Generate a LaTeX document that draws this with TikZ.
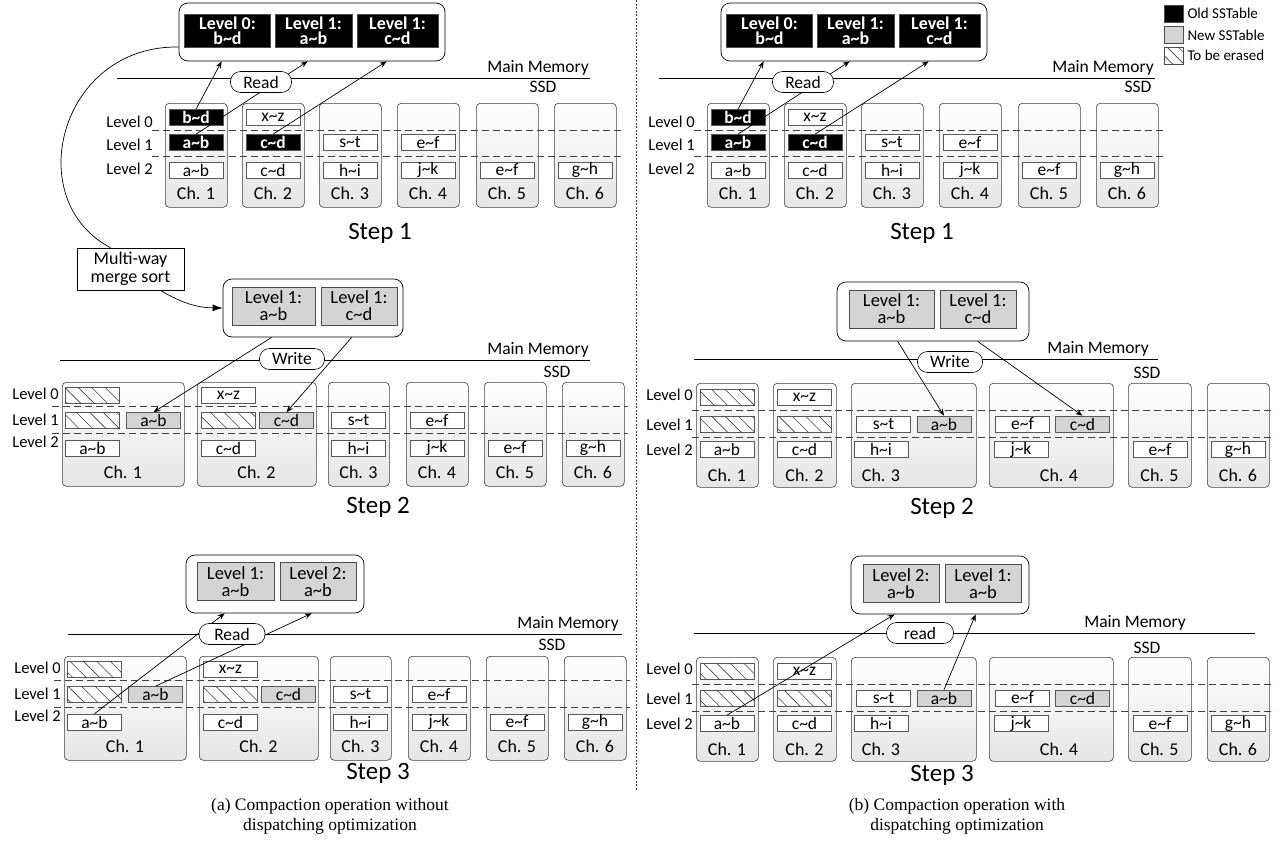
\documentclass[tikz,border=0pt]{standalone}
\usepackage{fontspec}
\setmainfont{Carlito}
\newfontfamily\capfont{Liberation Serif}
\usetikzlibrary{arrows.meta,calc,positioning,patterns.meta}
\newcommand{\tild}{\textasciitilde}

\tikzset{
  chbox/.style={draw=black!75, line width=.6pt, rounded corners=4pt, top color=white, bottom color=black!10},
  sst/.style={draw=black!65, line width=.6pt, fill=white, minimum width=54, minimum height=16, inner sep=0pt, font=\fontsize{17.5}{17}\selectfont},
  oldsst/.style={sst, fill=black, text=white, font=\fontsize{17.5}{17}\selectfont\bfseries},
  newsst/.style={sst, fill=black!17},
  erased/.style={sst, postaction={pattern={Lines[angle=-45,distance=9.5pt,line width=.6pt]}, pattern color=black!75}},
  memory/.style={draw, line width=.7pt, rounded corners=9pt, fill=white},
  memtab/.style={draw=black!70, line width=.6pt, fill=black!17, inner sep=0pt, minimum height=38, align=center, font=\fontsize{18.5}{17}\selectfont},
  memold/.style={memtab, fill=black, text=white, minimum height=33, font=\fontsize{18}{15.5}\selectfont\bfseries},
  optag/.style={draw, line width=.6pt, fill=white, rounded corners=10pt, minimum width=63, minimum height=21, inner sep=0pt, font=\fontsize{17.5}{17}\selectfont},
  sep/.style={line width=.7pt},
  lvline/.style={black!75, line width=.6pt, dash pattern=on 7pt off 4pt},
  lvl/.style={anchor=east, inner sep=0pt, font=\fontsize{16.5}{16}\selectfont},
  chlab/.style={inner sep=0pt, font=\fontsize{18}{17}\selectfont},
  layer/.style={inner sep=1pt, font=\fontsize{17.5}{17}\selectfont},
  steplab/.style={inner sep=0pt, font=\fontsize{25}{25}\selectfont},
  link/.style={-{Stealth[length=7pt,width=5.5pt]}, line width=.7pt},
  key/.style={draw=black!70, line width=.6pt, minimum width=19, minimum height=17, inner sep=0pt},
  keytxt/.style={inner sep=0pt, font=\fontsize{15}{15}\selectfont},
  captxt/.style={align=center, inner sep=0pt, font=\capfont\fontsize{17.5}{20}\selectfont},
}

% step 1 of a panel (left panel coordinates)
\newcommand{\stepone}[3]{%
  \node[memory, minimum width=266, minimum height=58] (#1mem) at (312,32) {};
  \node[memold, minimum width=86] (#1m1) at (227.5,30.5) {Level 0:\\b\tild d};
  \node[memold, minimum width=77] (#1m2) at (313.5,30.5) {Level 1:\\a\tild b};
  \node[memold, minimum width=81] (#1m3) at (397.5,30.5) {Level 1:\\c\tild d};
  \draw[sep] (117,78) -- (#2,78);
  \node[layer, anchor=south east] (#1mm) at (#2,77) {Main Memory};
  \node[layer] (#1ssd) at (#3,87) {SSD};
  \foreach \i/\x in {1/165,2/242,3/319,4/397,5/476,6/554}{
    \node[chbox, minimum width=62, minimum height=104, anchor=north west] (#1c\i) at (\x,103) {};
    \node[chlab] (#1k\i) at (\x+31,193) {Ch. \i};
  }
  \draw[lvline] (152,130) -- (622,130);
  \draw[lvline] (152,156) -- (622,156);
  \foreach \t/\y in {0/122,1/145,2/169} \node[lvl] (#1v\t) at (153,\y) {Level \t};
  \node[oldsst] (#1c1l0) at (196,117.5) {b\tild d};
  \node[oldsst] (#1c1l1) at (196,142.5) {a\tild b};
  \node[sst] (#1c1l2) at (196,170) {a\tild b};
  \node[sst] (#1c2l0) at (273,117.5) {x\tild z};
  \node[oldsst] (#1c2l1) at (273,142.5) {c\tild d};
  \node[sst] (#1c2l2) at (273,170) {c\tild d};
  \node[sst] (#1c3l1) at (350,142.5) {s\tild t};
  \node[sst] (#1c3l2) at (350,170) {h\tild i};
  \node[sst] (#1c4l1) at (428,142.5) {e\tild f};
  \node[sst] (#1c4l2) at (428,170) {j\tild k};
  \node[sst] (#1c5l2) at (507,170) {e\tild f};
  \node[sst] (#1c6l2) at (585,170) {g\tild h};
  \draw[link] (#1c1l0.north) -- ([xshift=43]#1mem.south west);
  \draw[link] (#1c1l1.north) -- ([xshift=129]#1mem.south west);
  \draw[link] (#1c2l1.north) -- ([xshift=208]#1mem.south west);
  \node[optag, minimum width=61] (#1tag) at (261,82) {Read};
  \node[steplab] (#1step) at (380,233) {Step 1};
}

% SSD of panel (a), steps 2 and 3
\newcommand{\ssdA}[1]{%
  \foreach \i/\x/\w/\lx in {1/62/122/123,2/197/119/256.5,3/328/61/358.5,4/406/62/437,5/484/62/515,6/562/62/593}{
    \node[chbox, minimum width=\w, minimum height=104, anchor=north west] (#1c\i) at (\x,382) {};
    \node[chlab] (#1k\i) at (\lx,472) {Ch. \i};
  }
  \draw[lvline] (52,406) -- (628,406);
  \draw[lvline] (52,433) -- (628,433);
  \foreach \t/\y in {0/394,1/420,2/442} \node[lvl] (#1v\t) at (59,\y) {Level \t};
  \node[erased] (#1c1l0) at (92.5,395) {};
  \node[erased] (#1c1l1) at (92.5,420.5) {};
  \node[newsst] (#1c1n) at (153.5,420.5) {a\tild b};
  \node[sst] (#1c1l2) at (92.5,448) {a\tild b};
  \node[sst] (#1c2l0) at (228.5,395) {x\tild z};
  \node[erased] (#1c2l1) at (228.5,420.5) {};
  \node[newsst] (#1c2n) at (286.5,420.5) {c\tild d};
  \node[sst] (#1c2l2) at (228.5,448) {c\tild d};
  \node[sst] (#1c3l1) at (358.5,420.5) {s\tild t};
  \node[sst] (#1c3l2) at (358.5,448) {h\tild i};
  \node[sst] (#1c4l1) at (437,420.5) {e\tild f};
  \node[sst] (#1c4l2) at (437,448) {j\tild k};
  \node[sst] (#1c5l2) at (515,448) {e\tild f};
  \node[sst] (#1c6l2) at (593,448) {g\tild h};
}

% SSD of panel (b), steps 2 and 3
\newcommand{\ssdB}[1]{%
  \foreach \i/\x/\w/\lx in {1/696/62/727,2/773/63/804.5,3/851/125/881,4/989/124/1059,5/1128/63/1159.5,6/1207/62/1238}{
    \node[chbox, minimum width=\w, minimum height=104, anchor=north west] (#1c\i) at (\x,383) {};
    \node[chlab] (#1k\i) at (\lx,475) {Ch. \i};
  }
  \draw[lvline] (692,410) -- (1275,410);
  \draw[lvline] (692,437) -- (1275,437);
  \foreach \t/\y in {0/395,1/425,2/450} \node[lvl] (#1v\t) at (693,\y) {Level \t};
  \node[erased] (#1c1l0) at (727,397) {};
  \node[erased] (#1c1l1) at (727,424) {};
  \node[sst] (#1c1l2) at (727,449.5) {a\tild b};
  \node[sst] (#1c2l0) at (804.5,397) {x\tild z};
  \node[erased] (#1c2l1) at (804.5,424) {};
  \node[sst] (#1c2l2) at (804.5,449.5) {c\tild d};
  \node[sst] (#1c3l1) at (883.5,424) {s\tild t};
  \node[newsst] (#1c3n) at (944,424) {a\tild b};
  \node[sst] (#1c3l2) at (881,449.5) {h\tild i};
  \node[sst] (#1c4l1) at (1022.5,424) {e\tild f};
  \node[newsst] (#1c4n) at (1082.5,424) {c\tild d};
  \node[sst] (#1c4l2) at (1021,449.5) {j\tild k};
  \node[sst] (#1c5l2) at (1160,449.5) {e\tild f};
  \node[sst] (#1c6l2) at (1238,449.5) {g\tild h};
}

\begin{document}
\begin{tikzpicture}[x=1pt,y=-1pt]
  \useasboundingbox (0,0) rectangle (1278,860);

  % (a) step 1
  \stepone{a1}{590}{543}

  % multi-way merge sort
  \node[draw, line width=.6pt, fill=white, align=center, minimum width=107, minimum height=42, inner sep=1pt, font=\fontsize{18}{18.5}\selectfont] (merge) at (130.5,269) {Multi-way\\merge sort};
  \draw[line width=.7pt] ([yshift=-15]a1mem.west) .. controls (60,45) and (20,200) .. ([xshift=-20]merge.north);

  % (a) step 2
  \node[memory, minimum width=180, minimum height=58] (a2mem) at (313,308) {};
  \node[memtab, minimum width=83] (a2m1) at (273.5,306) {Level 1:\\a\tild b};
  \node[memtab, minimum width=76] (a2m2) at (359,306) {Level 1:\\c\tild d};
  \draw[-{Latex[length=10pt,width=7pt]}, line width=.7pt] ([xshift=-24]merge.south east) to[bend right=15] (a2mem.west);
  \draw[sep] (60,360) -- (590,360);
  \node[layer, anchor=south east] (a2mm) at (590,359) {Main Memory};
  \node[layer] (a2ssd) at (557,372) {SSD};
  \ssdA{a2}
  \draw[link] ([xshift=49]a2mem.south west) -- (a2c1n.north);
  \draw[link] ([xshift=129]a2mem.south west) -- (a2c2n.north);
  \node[optag, minimum width=65] (a2tag) at (292,359) {Write};
  \node[steplab] (a2step) at (378,507) {Step 2};

  % (a) step 3
  \node[memory, minimum width=178, minimum height=58] (a3mem) at (275,584) {};
  \node[memtab, minimum width=77] (a3m1) at (235.5,581.5) {Level 1:\\a\tild b};
  \node[memtab, minimum width=76] (a3m2) at (318,581.5) {Level 2:\\a\tild b};
  \draw[sep] (68,634) -- (622,634);
  \node[layer, anchor=south east] (a3mm) at (620,633) {Main Memory};
  \node[layer] (a3ssd) at (552,645) {SSD};
  \begin{scope}[shift={(2,274)}]
    \ssdA{a3}
  \end{scope}
  \draw[link] (a3c1l2.north) -- ([xshift=39]a3mem.south west);
  \draw[link] (a3c1n.north) -- ([xshift=126]a3mem.south west);
  \node[optag, minimum width=66] (a3tag) at (232,634) {Read};
  \node[steplab] (a3step) at (378,773) {Step 3};

  % divider
  \draw[black!80, line width=.5pt, dash pattern=on 2pt off 1.5pt] (636,0) -- (636,790);

  % (b) step 1
  \begin{scope}[xshift=542]
    \stepone{b1}{613}{596}
  \end{scope}

  % legend
  \node[key, fill=black] (keyold) at (1173.5,13.5) {};
  \node[keytxt, right=4pt of keyold] (keyoldt) {Old SSTable};
  \node[key, fill=black!17] (keynew) at (1173.5,35) {};
  \node[keytxt, right=4pt of keynew] (keynewt) {New SSTable};
  \node[key, fill=white, postaction={pattern={Lines[angle=-45,distance=8pt,line width=.6pt]}, pattern color=black!75}] (keyera) at (1173.5,55.5) {};
  \node[keytxt, right=4pt of keyera] (keyerat) {To be erased};

  % (b) step 2
  \node[memory, minimum width=192, minimum height=59] (b2mem) at (933,311.5) {};
  \node[memtab, minimum width=85] (b2m1) at (891.5,309) {Level 1:\\a\tild b};
  \node[memtab, minimum width=76] (b2m2) at (978,309) {Level 1:\\c\tild d};
  \draw[sep] (694,359) -- (1158,359);
  \node[layer, anchor=south east] (b2mm) at (1150,358) {Main Memory};
  \node[layer] (b2ssd) at (1147,373) {SSD};
  \ssdB{b2}
  \draw[link] ([xshift=61]b2mem.south west) -- (b2c3n.north);
  \draw[link] ([xshift=141]b2mem.south west) -- (b2c4n.north);
  \node[optag, minimum width=65] (b2tag) at (950,362) {Write};
  \node[steplab] (b2step) at (942,508) {Step 2};

  % (b) step 3
  \node[memory, minimum width=178, minimum height=58] (b3mem) at (940,585) {};
  \node[memtab, minimum width=76] (b3m1) at (901,583.5) {Level 2:\\a\tild b};
  \node[memtab, minimum width=76] (b3m2) at (983,583.5) {Level 1:\\a\tild b};
  \draw[sep] (694,633) -- (1255,633);
  \node[layer, anchor=south east] (b3mm) at (1187,632) {Main Memory};
  \node[layer] (b3ssd) at (1147,648) {SSD};
  \begin{scope}[shift={(0,274)}]
    \ssdB{b3}
  \end{scope}
  \draw[link] (b3c1l2.north) -- ([xshift=44]b3mem.south west);
  \draw[link] (b3c3n.north) -- ([xshift=125]b3mem.south west);
  \node[optag, minimum width=67] (b3tag) at (920,633) {read};
  \node[steplab] (b3step) at (942,775) {Step 3};

  % captions
  \node[captxt] (capa) at (330,816) {(a) Compaction operation without\\dispatching optimization};
  \node[captxt] (capb) at (957,816) {(b) Compaction operation with\\dispatching optimization};
\end{tikzpicture}
\end{document}
